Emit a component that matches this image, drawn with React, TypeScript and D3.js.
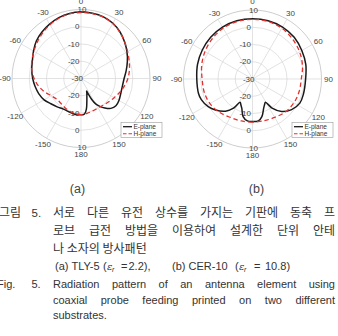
import { useEffect, useRef } from 'react';
import * as d3 from 'd3';

// radial grid (dB) and angle ticks (deg, clockwise from top)
const ringTicks = [-30, -20, -10, 0, 10];
const thetaTicks = [0, 30, 60, 90, 120, 150, 180, -150, -120, -90, -60, -30];

// (a) TLY-5
const angA_E = [-180, -170, -160, -150, -140, -130, -120, -110, -100, -90, -80, -70, -60, -50, -40, -30, -20, -10,
  0, 10, 20, 30, 40, 50, 60, 70, 80, 90, 100, 110, 120,
  128, 135, 141, 146, 150, 153, 155, 156, 158, 162, 166, 170, 174, 177, 180];
const dbA_E = [-9, -9, -9.5, -9.5, -8.5, -7.2, -5.3, -4, -3, -2, -1, 0, 1.8, 3.8, 5.2, 6.4, 7.6, 8.3,
  8.5, 8.4, 8, 7, 5.2, 3, 0.8, -1.4, -3.4, -5, -5.6, -5.4, -4.6,
  -4.3, -5.5, -8, -10.5, -13, -16.5, -20.5, -22, -21, -19, -16, -12, -9.5, -9, -9];
const angA_H = d3.range(-180, 181, 10);
const dbA_H = [-9, -9.3, -10, -10.8, -11.5, -11.5, -10, -7.5, -5, -2.8, -1, 0.3, 1.5, 3, 4.5, 6, 7.2, 8,
  8.2, 8.2, 7.8, 6.8, 5, 3, 1.2, -0.3, -1.5, -2.8, -4.5, -6.2, -7.8, -9, -9.8, -10.3, -10, -9.5, -9];

// (b) CER-10
const angB_E = [-180, -173, -166, -160, -156, -152, -147, -140, -130, -122, -112, -105, -90, -75, -60, -45, -30, -15,
  0, 15, 30, 45, 60, 75, 90, 107, 117, 128, 138, 146, 151, 155, 159, 166, 172, 180];
const dbB_E = [-5.3, -5.5, -7.5, -11.9, -13.5, -14.7, -9.8, -5.6, -2, 0.3, 2, 2.4, 2.3, 3, 3.6, 4.3, 4.8, 5,
  5, 5, 4.8, 4.2, 3, 2, 0.8, 0.8, 0.8, -1.2, -4.7, -9.7, -14.6, -13.5, -11.9, -7.5, -5.5, -5.3];
const angB_H = d3.range(-180, 181, 15);
const dbB_H = [-5, -4.8, -4.3, -2.8, -1.5, -1, -0.8, 0.5, 1.8, 3, 4, 4.5,
  4.6, 4.5, 4, 2.8, 1.5, 0, -1.7, -2, -2.3, -3, -4.3, -4.9, -5];

const legendLabels = ['E-plane', 'H-plane'];

const captionKo = [
  '서로 다른 유전 상수를 가지는 기판에 동축 프',
  '로브 급전 방법을 이용하여 설계한 단위 안테',
  '나 소자의 방사패턴',
];
const captionEn = [
  'Radiation pattern of an antenna element using',
  'coaxial probe feeding printed on two different',
  'substrates.',
];
const substrates = [
  { tag: '(a)', name: 'TLY-5', er: '2.2' },
  { tag: '(b)', name: 'CER-10', er: '10.8' },
];

const W = 338;
const H = 336;
const R = 69;

const panels = [
  { cx: 81, cy: 78.5, e: [angA_E, dbA_E], h: [angA_H, dbA_H], lx: 121, ly: 122.5, tag: '(a)', tx: 77.5 },
  { cx: 252.5, cy: 79, e: [angB_E, dbB_E], h: [angB_H, dbB_H], lx: 292, ly: 122.5, tag: '(b)', tx: 256.5 },
];

const App = () => {
  const svgRef = useRef<SVGSVGElement>(null);

  useEffect(() => {
    if (!svgRef.current) return;
    const svg = d3.select(svgRef.current);
    svg.selectAll('*').remove();

    const r = d3.scaleLinear().domain([-30, 10]).range([0, R]).clamp(true);
    const rad = (deg: number) => (deg * Math.PI) / 180;

    panels.forEach((p) => {
      const g = svg.append('g').attr('transform', `translate(${p.cx},${p.cy})`);

      // rings
      g.selectAll('.ring')
        .data(ringTicks.slice(1))
        .enter()
        .append('circle')
        .attr('r', (d) => r(d))
        .attr('fill', 'none')
        .attr('stroke', (d) => (d === 10 ? '#b8b8b8' : '#d6d6d6'))
        .attr('stroke-width', 0.7);

      // spokes
      g.selectAll('.spoke')
        .data(d3.range(0, 360, 30))
        .enter()
        .append('line')
        .attr('x1', 0)
        .attr('y1', 0)
        .attr('x2', (d) => R * Math.sin(rad(d)))
        .attr('y2', (d) => -R * Math.cos(rad(d)))
        .attr('stroke', '#d6d6d6')
        .attr('stroke-width', 0.7);

      // angle labels
      g.selectAll('.tlabel')
        .data(thetaTicks)
        .enter()
        .append('text')
        .attr('x', (d) => 76 * Math.sin(rad(d)))
        .attr('y', (d) => (d === 0 ? -77.5 : -76 * Math.cos(rad(d))))
        .attr('text-anchor', 'middle')
        .attr('dominant-baseline', 'central')
        .style('font-family', 'Liberation Sans, Arial, sans-serif')
        .style('font-size', '8px')
        .style('fill', '#444')
        .text((d) => `${d}`);

      // radial labels, top and bottom of the vertical axis
      const rl: { v: number; y: number }[] = [];
      ringTicks.forEach((v) => {
        if (v === -30) rl.push({ v, y: 0 });
        else {
          rl.push({ v, y: -r(v) });
          rl.push({ v, y: r(v) });
        }
      });
      g.selectAll('.rlabel')
        .data(rl)
        .enter()
        .append('text')
        .attr('x', (d) => (d.v === 10 ? 1 : d.v === -30 ? 2 : -1.5))
        .attr('y', (d) => d.y)
        .attr('text-anchor', (d) => (d.v === 10 ? 'middle' : 'end'))
        .attr('dominant-baseline', 'central')
        .style('font-family', 'Liberation Sans, Arial, sans-serif')
        .style('font-size', '8px')
        .style('fill', '#444')
        .text((d) => `${d.v}`);

      const line = d3
        .lineRadial<[number, number]>()
        .angle((d) => rad(d[0]))
        .radius((d) => r(d[1]))
        .curve(d3.curveCatmullRom.alpha(0.5));

      const hPts = p.h[0].map((a, i) => [a, p.h[1][i]] as [number, number]);
      const ePts = p.e[0].map((a, i) => [a, p.e[1][i]] as [number, number]);

      g.append('path')
        .attr('d', line(ePts))
        .attr('fill', 'none')
        .attr('stroke', '#1a1a1a')
        .attr('stroke-width', 1.5);

      g.append('path')
        .attr('d', line(hPts))
        .attr('fill', 'none')
        .attr('stroke', '#e2312e')
        .attr('stroke-width', 1.3)
        .attr('stroke-dasharray', '4.5,3');

      // legend
      const lg = svg.append('g').attr('transform', `translate(${p.lx},${p.ly})`);
      lg.append('rect')
        .attr('width', 41)
        .attr('height', 15)
        .attr('fill', '#fff')
        .attr('stroke', '#9a9a9a')
        .attr('stroke-width', 0.6);
      legendLabels.forEach((lab, i) => {
        const y = 4.2 + i * 7;
        lg.append('line')
          .attr('x1', 2)
          .attr('x2', 11)
          .attr('y1', y)
          .attr('y2', y)
          .attr('stroke', i === 0 ? '#1a1a1a' : '#e2312e')
          .attr('stroke-width', i === 0 ? 1.3 : 1.1)
          .attr('stroke-dasharray', i === 0 ? null : '3.5,2');
        lg.append('text')
          .attr('x', 12.5)
          .attr('y', y)
          .attr('dominant-baseline', 'central')
          .style('font-family', 'Liberation Sans, Arial, sans-serif')
          .style('font-size', '6.5px')
          .style('fill', '#333')
          .text(lab);
      });

      svg.append('text')
        .attr('x', p.tx)
        .attr('y', 192.5)
        .attr('text-anchor', 'middle')
        .style('font-family', 'Liberation Sans, Arial, sans-serif')
        .style('font-size', '12.5px')
        .style('fill', '#444')
        .text(p.tag);
    });

    // caption
    const cap = svg.append('g').style('fill', '#333');
    const ko = 'Noto Sans CJK KR, sans-serif';
    const en = 'Liberation Sans, Arial, sans-serif';
    const left = 53;
    const right = 335;

    const justify = (
      sel: d3.Selection<SVGTextElement, unknown, null, undefined>,
      n: number,
      x0: number,
      x1: number,
    ) => {
      const node = sel.node();
      if (!node) return;
      const w = node.getComputedTextLength();
      sel.attr('word-spacing', (x1 - x0 - w) / n);
    };

    cap.append('text').attr('x', -1).attr('y', 216.5).style('font-family', ko).style('font-size', '12px').text('그림');
    cap.append('text').attr('x', 31.5).attr('y', 216.5).style('font-family', en).style('font-size', '11.5px').text('5.');
    const koY = [216.5, 234.5, 252.5];
    captionKo.forEach((t, i) => {
      const s = cap.append('text')
        .attr('x', left)
        .attr('y', koY[i])
        .style('font-family', ko)
        .style('font-size', '12px')
        .text(t);
      if (i < 2) justify(s, t.split(' ').length - 1, left, right);
    });

    // (a) TLY-5 (εr =2.2), (b) CER-10 (εr = 10.8)
    const subY = 270;
    const put = (x: number, t: string, kind = '') => {
      cap.append('text')
        .attr('x', x)
        .attr('y', kind === 'sub' ? subY + 2 : subY)
        .style('font-family', kind === 'eps' ? 'DejaVu Serif, serif' : en)
        .style('font-style', kind ? 'italic' : 'normal')
        .style('font-size', kind === 'sub' ? '7px' : kind === 'eps' ? '10px' : '11px')
        .text(t);
    };
    const starts = [55, 172];
    substrates.forEach((s, i) => {
      const x = starts[i];
      put(x, s.tag);
      put(x + 16.5, s.name);
      const px = i === 0 ? x + 48 : x + 63;
      put(px, '(');
      put(px + 4, 'ε', 'eps');
      put(px + 9, 'r', 'sub');
      if (i === 0) {
        put(px + 18, '=');
        put(px + 25.5, `${s.er}),`);
      } else {
        put(px + 19, '=');
        put(px + 30, `${s.er})`);
      }
    });

    cap.append('text').attr('x', -3).attr('y', 288).style('font-family', en).style('font-size', '11px').text('Fig.');
    cap.append('text').attr('x', 31.5).attr('y', 288).style('font-family', en).style('font-size', '11px').text('5.');
    const enY = [288, 303.5, 319];
    captionEn.forEach((t, i) => {
      const s = cap.append('text')
        .attr('x', left)
        .attr('y', enY[i])
        .style('font-family', en)
        .style('font-size', '11px')
        .text(t);
      if (i < 2) justify(s, t.split(' ').length - 1, left, right);
    });
  }, []);

  return (
    <svg
      ref={svgRef}
      width={W}
      height={H}
      style={{ position: 'absolute', left: 0, top: 0, background: '#fff' }}
    />
  );
};

export default App;
